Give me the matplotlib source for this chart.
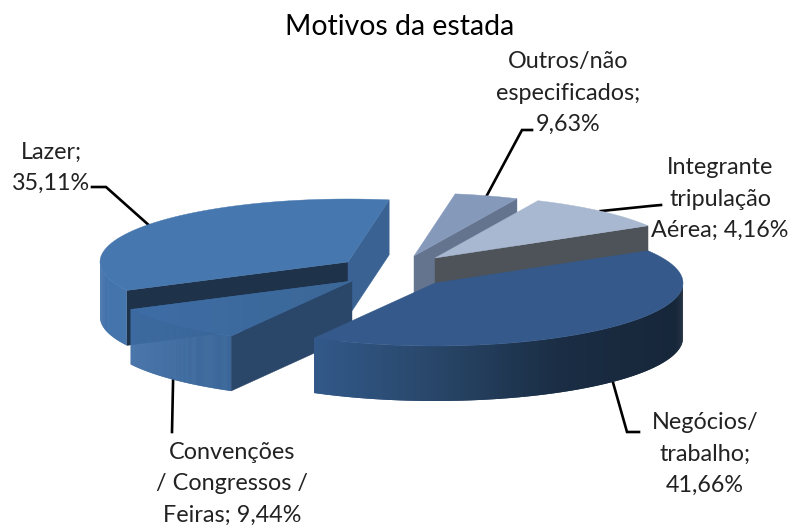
import numpy as np
import matplotlib
matplotlib.use("Agg")
import matplotlib.pyplot as plt
from matplotlib.colors import to_rgb

plt.rcParams['font.family'] = ['Lato', 'DejaVu Sans']

# --- data -------------------------------------------------------------
title = "Motivos da estada"
categories = ["Negócios", "Convenções", "Lazer", "Outros", "Integrante"]
# shares as drawn, clockwise (the source chart's two small slices carry each other's labels)
slice_values = [41.66, 9.44, 35.11, 4.16, 9.63]
label_texts = ["Negócios/\ntrabalho;\n41,66%",
               "Convenções\n/ Congressos /\nFeiras; 9,44%",
               "Lazer;\n35,11%",
               "Outros/não\nespecificados;\n9,63%",
               "Integrante\ntripulação\nAérea; 4,16%"]

# --- style / layout ---------------------------------------------------
RX, RY, DEPTH = 248, 63, 55
START = 30.8
centers = {"Negócios": (435, 283), "Convenções": (352, 281), "Lazer": (348, 262),
           "Integrante": (435, 258), "Outros": (414, 256)}
top_col = {"Negócios": ("#34598a", "#34598a"), "Convenções": ("#3e6ca5", "#3c6897"),
           "Lazer": ("#4677af", "#4677af"), "Integrante": ("#a9b8d1", "#a9b8d1"),
           "Outros": ("#8599bb", "#8599bb")}
wall_col = {"Negócios": ["#32598a", "#284668", "#1a2d44", "#172639"], "Convenções": ["#3f6ea6", "#3a6699"],
            "Lazer": ["#4473ab", "#4575ad"], "Integrante": ["#4d5359", "#4d5359"],
            "Outros": ["#64748f", "#64748f"]}
# colour of the cut face at the slice's first (clockwise start) and last edge
cut_col = {"Negócios": ("#34598a", "#34598a"), "Convenções": ("#2a4669", "#2a4669"),
           "Lazer": ("#1e3249", "#3a6292"), "Integrante": ("#4d5359", "#4d5359"),
           "Outros": ("#64748f", "#64748f")}
draw_order = ["Outros", "Integrante", "Lazer", "Convenções", "Negócios"]
label_pos = {"Negócios": (705, 454), "Convenções": (232, 484), "Lazer": (51, 168),
             "Integrante": (720, 199), "Outros": (568, 93)}
elbows = {"Negócios": [(627, 432), (639, 432)], "Convenções": [(172, 432)],
          "Lazer": [(106, 187), (92, 187)], "Integrante": [(650, 206), (661, 205)],
          "Outros": [(522, 130), (532, 130)]}

# --- geometry from the values -------------------------------------------
fig = plt.figure(figsize=(7.9, 5.26), dpi=100, facecolor="white")
ax = fig.add_axes([0, 0, 1, 1])
ax.set_xlim(0, 790)
ax.set_ylim(526, 0)
ax.axis("off")


def pt(name, deg, dz=0):
    cx, cy = centers[name]
    a = np.radians(deg)
    return cx + RX * np.cos(a), cy - RY * np.sin(a) + dz


def lerp(cols, t):
    cols = [np.array(to_rgb(c)) for c in cols]
    pos = np.clip(t, 0, 1) * (len(cols) - 1)
    i = min(int(pos), len(cols) - 2)
    return tuple(cols[i] + (cols[i + 1] - cols[i]) * (pos - i))


angles = {}
a0 = START
for name, v in zip(categories, slice_values):
    angles[name] = (a0, a0 - v * 3.6)
    a0 -= v * 3.6

z = 2
for name in draw_order:
    hi, lo = angles[name]
    cx, cy = centers[name]
    # cut faces: an edge is seen when its outward normal points towards the viewer
    edges = ((hi, np.cos(np.radians(hi)) < 0, cut_col[name][0]),
             (lo, np.cos(np.radians(lo)) > 0, cut_col[name][1]))
    for deg, visible, col in edges:
        if visible:
            x, y = pt(name, deg)
            ax.fill([cx, x, x, cx], [cy, y, y + DEPTH, cy + DEPTH], color=col, lw=0.3, zorder=z)
    z += 1
    # outer wall, only where the rim faces the viewer
    ts = np.linspace(hi, lo, 241)
    ts = ts[np.sin(np.radians(ts)) <= 0.0]
    if len(ts) > 2:
        xs = np.array([pt(name, d)[0] for d in ts])
        xmin, xmax = xs.min(), xs.max()
        for i in range(len(ts) - 1):
            # each strip overlaps the next one so that no seam shows
            seg = ts[i:i + 3]
            tx = [pt(name, d)[0] for d in seg]
            ty = [pt(name, d)[1] for d in seg]
            c = lerp(wall_col[name], (np.mean(tx[:2]) - xmin) / max(xmax - xmin, 1))
            ax.fill(tx + tx[::-1], ty + [v + DEPTH for v in ty[::-1]], color=c, lw=0, zorder=z)
            z += 0.001
    z += 1
    # top face
    ts = np.linspace(hi, lo, 200)
    px = [cx] + [pt(name, d)[0] for d in ts]
    py = [cy] + [pt(name, d)[1] for d in ts]
    c0, c1 = top_col[name]
    if c0 == c1:
        ax.fill(px, py, color=c0, lw=0.3, zorder=z)
    else:
        poly = ax.fill(px, py, color=c0, lw=0.3, zorder=z)[0]
        cols = np.array([lerp([c0, c1], t) for t in np.linspace(0, 1, 64)]).reshape(1, -1, 3)
        im = ax.imshow(cols, extent=(min(px), max(px), max(py), min(py)),
                       aspect="auto", zorder=z + 0.1)
        im.set_clip_path(poly)
    z += 1

ax.set_xlim(0, 790)
ax.set_ylim(526, 0)

# --- leader lines and labels --------------------------------------------
for name, txt in zip(categories, label_texts):
    hi, lo = angles[name]
    mid = (hi + lo) / 2
    s = np.sin(np.radians(mid))
    x, y = pt(name, mid, DEPTH if s < 0 else 0)
    xs = [x] + [p[0] for p in elbows[name]]
    ys = [y] + [p[1] for p in elbows[name]]
    ax.plot(xs, ys, color="black", lw=1.9, solid_joinstyle="miter", zorder=1)
    lx, ly = label_pos[name]
    ax.text(lx, ly, txt, ha="center", va="center", fontsize=16.8, color="#222222",
            linespacing=1.6, zorder=5000)

ax.text(399.5, 27, title, ha="center", va="center", fontsize=20.4, color="black", zorder=5000)

fig.savefig("out.png", dpi=100, facecolor="white")
